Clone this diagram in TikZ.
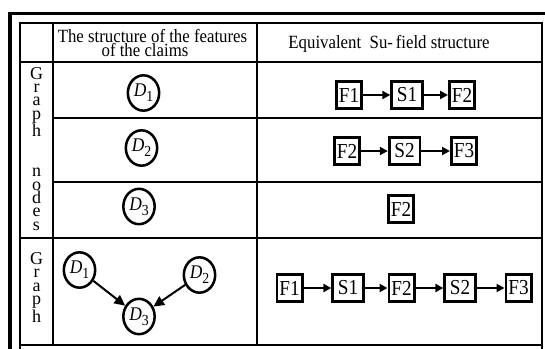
\documentclass[tikz,border=0pt]{standalone}
\usepackage{fontspec}
\setmainfont{Liberation Serif}
\usepackage{graphicx}
\usetikzlibrary{shapes.geometric,arrows.meta}
\newcommand\hx[1]{\scalebox{0.9}[1]{#1}}
\newcommand\dlab[1]{\scalebox{0.9}[1]{\fontsize{14.5}{14.5}\selectfont\itshape D\/\raisebox{-3.75pt}{\upshape\fontsize{11.5}{11.5}\selectfont #1}}}
\begin{document}
\begin{tikzpicture}[x=0.75pt,y=-0.75pt,
  frame/.style={line width=2.4pt},
  rule/.style={line width=2.1pt},
  dnode/.style={draw, ellipse, line width=1.9pt, minimum width=23.5pt, minimum height=26.5pt, inner sep=0pt},
  fbox/.style={draw, rectangle, line width=2pt, minimum width=19pt, minimum height=20pt, inner sep=0pt, font=\fontsize{16}{16}\selectfont},
  sbox/.style={fbox, minimum width=23pt},
  arr/.style={line width=1.5pt, -{Triangle[length=6pt,width=6pt]}},
  garr/.style={line width=1.5pt, -{Triangle[length=8pt,width=7.5pt]}},
  txt/.style={anchor=base, inner sep=0pt, font=\fontsize{14}{14}\selectfont},
  vtxt/.style={anchor=base, inner sep=0pt, align=center, font=\fontsize{13.5}{10}\selectfont}]
\useasboundingbox (0,0) rectangle (545,349);
% outer frame
\draw[frame] (10,349) -- (10,13.5) -- (545,13.5);
% table
\draw[rule] (20,23) rectangle (542,345);
\draw[rule] (20,345) -- (20,349) (542,345) -- (542,349);
\draw[rule] (53,23) -- (53,345) (257,23) -- (257,345);
\draw[rule] (20,62) -- (542,62) (53,118) -- (542,118) (53,182) -- (542,182) (20,238) -- (542,238);
% headers
\node[txt] (h1) at (152.5,43) {\hx{The structure of the features}};
\node[txt] (h2) at (145,57) {\hx{of the claims}};
\node[txt] (h3) at (389,48.5) {\hx{Equivalent\ \ Su-\,field structure}};
% vertical labels (base = last line)
\node[vtxt] (va) at (36.5,230.3) {G\\r\\a\\p\\h\\[20pt]n\\o\\d\\e\\s};
\node[vtxt] (vb) at (36.5,322) {G\\r\\a\\p\\h};
% D nodes
\node[dnode] (d1) at (143.5,93) {\dlab{1}};
\node[dnode] (d2) at (141.5,148) {\dlab{2}};
\node[dnode] (d3) at (139,206.5) {\dlab{3}};
\node[dnode] (g1) at (79.5,270) {\dlab{1}};
\node[dnode] (g2) at (199.5,275) {\dlab{2}};
\node[dnode] (g3) at (139,316.5) {\dlab{3}};
\draw[garr] (g1) -- (g3);
\draw[garr] (g2) -- (g3);
% row 1
\node[fbox] (r1a) at (349,95) {\hx{F1}};
\node[sbox] (r1b) at (407,95) {\hx{S1}};
\node[fbox] (r1c) at (462,95) {\hx{F2}};
\draw[arr] (r1a) -- (r1b);
\draw[arr] (r1b) -- (r1c);
% row 2
\node[fbox] (r2a) at (347,151) {\hx{F2}};
\node[sbox] (r2b) at (404.5,151) {\hx{S2}};
\node[fbox] (r2c) at (464,151) {\hx{F3}};
\draw[arr] (r2a) -- (r2b);
\draw[arr] (r2b) -- (r2c);
% row 3
\node[fbox] (r3a) at (401,209) {\hx{F2}};
% graph row
\node[fbox] (r4a) at (289.5,288) {\hx{F1}};
\node[sbox] (r4b) at (348,288) {\hx{S1}};
\node[fbox] (r4c) at (401.5,288) {\hx{F2}};
\node[sbox] (r4d) at (460,288) {\hx{S2}};
\node[fbox] (r4e) at (518.5,288) {\hx{F3}};
\draw[arr] (r4a) -- (r4b);
\draw[arr] (r4b) -- (r4c);
\draw[arr] (r4c) -- (r4d);
\draw[arr] (r4d) -- (r4e);
\end{tikzpicture}
\end{document}
